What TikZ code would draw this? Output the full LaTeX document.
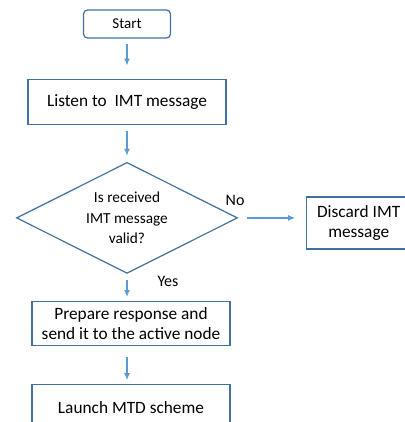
\documentclass[tikz,border=0pt]{standalone}
\usepackage{fontspec}
\setmainfont{Carlito}
\usetikzlibrary{shapes.geometric, arrows.meta, positioning}
\definecolor{boxblue}{HTML}{41719C}
\definecolor{lineblue}{HTML}{5B9BD5}

\begin{document}
\begin{tikzpicture}[
  every node/.style={
    text centered,
    align=center,
    font=\fontsize{17.3}{20.5}\selectfont
  },
  box/.style={
    rectangle,
    draw=boxblue, line width=1.2pt,
    inner sep=2pt
  },
  start box/.style={box, rounded corners=4pt, minimum width=87pt, minimum height=28pt,
    font=\fontsize{15}{18}\selectfont},
  big box/.style={box, minimum width=198pt, minimum height=45pt},
  side box/.style={box, minimum width=104pt, minimum height=52pt},
  decision/.style={diamond, aspect=2, draw=boxblue, line width=1.2pt, inner sep=0pt,
    minimum width=221pt, minimum height=111pt, font=\fontsize{15.3}{20.5}\selectfont},
  lbl/.style={inner sep=0pt, font=\fontsize{16}{18}\selectfont},
  >={Latex[length=7pt,width=6pt]}, %small filled tips
  myline/.style={draw, lineblue, line width=1.5pt},
  shorter/.style={shorten <=6pt, shorten >=6pt}
  ]
\useasboundingbox (0,0) rectangle (404pt,-422pt);
\node[start box] (start) at (127pt,-24pt) {Start};
\node[big box, below=40pt of start] (listen) {Listen to\ \ IMT message};
\node[decision, below=37pt of listen] (dia) {Is received\\IMT message\\valid?};
\node[side box, right=68pt of dia, yshift=-5pt] (disc) {Discard IMT\\message};
\node[big box, minimum height=44pt, below=27pt of dia, xshift=4pt] (prep) {Prepare response and\\send it to the active node};
\node[big box, minimum height=46pt, below=38pt of prep] (launch) {Launch MTD scheme};
% branch labels
\node[lbl] (no) at ([shift={(-3pt,17pt)}]dia.east) {No};
\node[lbl] (yes) at ([shift={(41pt,-7pt)}]dia.south) {Yes};
\path[myline,shorter] (start) edge[->, shorten <=5pt, shorten >=13pt] (listen)
                      (listen) edge[->] (dia)
                      (dia.east) edge[->, shorten <=9pt, shorten >=11pt] (dia.east -| disc.west)
                      (dia.south) edge[->, shorten >=4pt] (dia.south |- prep.north)
                      (prep.south -| dia.south) edge[->, shorten <=11pt, shorten >=4pt] (dia.south |- launch.north)
                      ;
\end{tikzpicture}
\end{document}
